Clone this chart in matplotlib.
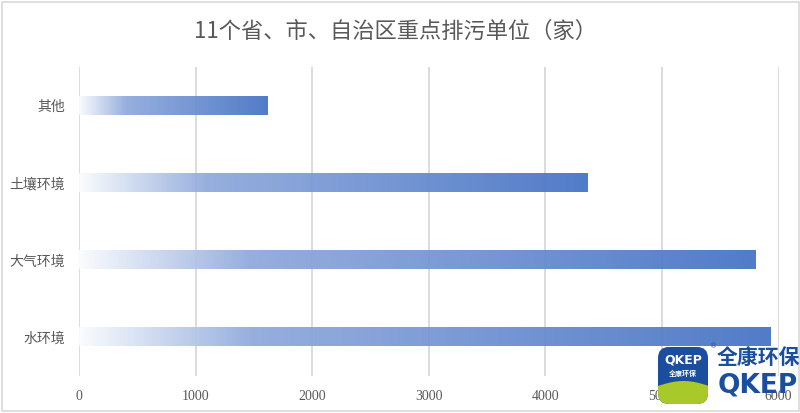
import numpy as np
import matplotlib
matplotlib.use("Agg")
import matplotlib.pyplot as plt
from matplotlib.colors import LinearSegmentedColormap
from matplotlib.patches import FancyBboxPatch, Rectangle, Polygon

plt.rcParams['font.family'] = ['Noto Sans CJK SC', 'DejaVu Sans']

# ---- data ----
categories = ["水环境", "大气环境", "土壤环境", "其他"]
values = [5930, 5800, 4360, 1620]
xticks = [0, 1000, 2000, 3000, 4000, 5000, 6000]
title = "11个省、市、自治区重点排污单位（家）"

W, H = 800, 413
fig = plt.figure(figsize=(W / 100, H / 100), dpi=100)
fig.patch.set_facecolor("white")

x0, x1 = 79, 778.5
ytop, ybot = 67, 376
ax = fig.add_axes([x0 / W, 1 - ybot / H, (x1 - x0) / W, (ybot - ytop) / H])
ax.set_xlim(0, 6000)
ax.set_ylim(-0.5, len(categories) - 0.5)

cmap = LinearSegmentedColormap.from_list(
    "grad", [(0.0, "#FAFCFE"), (0.25, "#8FA9DC"), (1.0, "#4472C4")])
grad = np.linspace(0, 1, 512).reshape(1, -1)
bh = 0.235
for i, v in enumerate(values):
    ax.imshow(grad, cmap=cmap, extent=[0, v, i - bh / 2, i + bh / 2],
              aspect="auto", interpolation="bilinear", alpha=0.93, zorder=2)
ax.set_xlim(0, 6000)
ax.set_ylim(-0.5, len(categories) - 0.5)

for t in xticks:
    ax.axvline(t, color="#D9D9D9", lw=1.3, zorder=1)

ax.set_yticks(range(len(categories)))
ax.set_yticklabels(categories, fontsize=10, color="#595959")
ax.set_xticks(xticks)
ax.set_xticklabels([str(t) for t in xticks], fontsize=10, color="#595959",
                   family=["Liberation Serif"])
ax.tick_params(axis="both", length=0)
ax.tick_params(axis="x", pad=10)
ax.tick_params(axis="y", pad=10)
for s in ax.spines.values():
    s.set_visible(False)

fig.text(395 / W, 1 - 31 / H, title, ha="center", va="center",
         fontsize=16, color="#595959")

# ---- decoration overlay (border + logo) ----
ov = fig.add_axes([0, 0, 1, 1], zorder=10)
ov.set_xlim(0, W)
ov.set_ylim(H, 0)
ov.axis("off")
ov.patch.set_alpha(0)
ov.add_patch(Rectangle((2, 2), 797, 409, fill=False, edgecolor="#D9D9D9", lw=1.2))

blue = "#1B4E9E"
green = "#A9C92B"
box = FancyBboxPatch((658, 347), 50, 57, boxstyle="round,pad=0,rounding_size=11",
                     facecolor=blue, edgecolor="none")
ov.add_patch(box)
xs = np.linspace(655, 712, 40)
ys = 387 - 6 * np.sin((xs - 655) / 57 * np.pi)
wave = Polygon(np.column_stack([np.r_[xs, 712, 655], np.r_[ys, 410, 410]]),
               closed=True, facecolor=green, edgecolor="none")
ov.add_patch(wave)
wave.set_clip_path(box)
ov.text(683, 360, "QKEP", color="white", fontsize=9, fontweight="bold",
        ha="center", va="center", family=["DejaVu Sans"])
ov.text(683, 373, "全康环保", color="white", fontsize=5, fontweight="bold",
        ha="center", va="center")
ov.text(758, 357, "全康环保", color=blue, fontsize=15, fontweight="bold",
        ha="center", va="center")
ov.text(758, 385, "QKEP", color=blue, fontsize=19, fontweight="bold",
        ha="center", va="center", family=["DejaVu Sans"])
ov.text(714, 346, "®", color=blue, fontsize=5, ha="center", va="center",
        family=["DejaVu Sans"])

fig.savefig("out.png", dpi=100, facecolor="white")
